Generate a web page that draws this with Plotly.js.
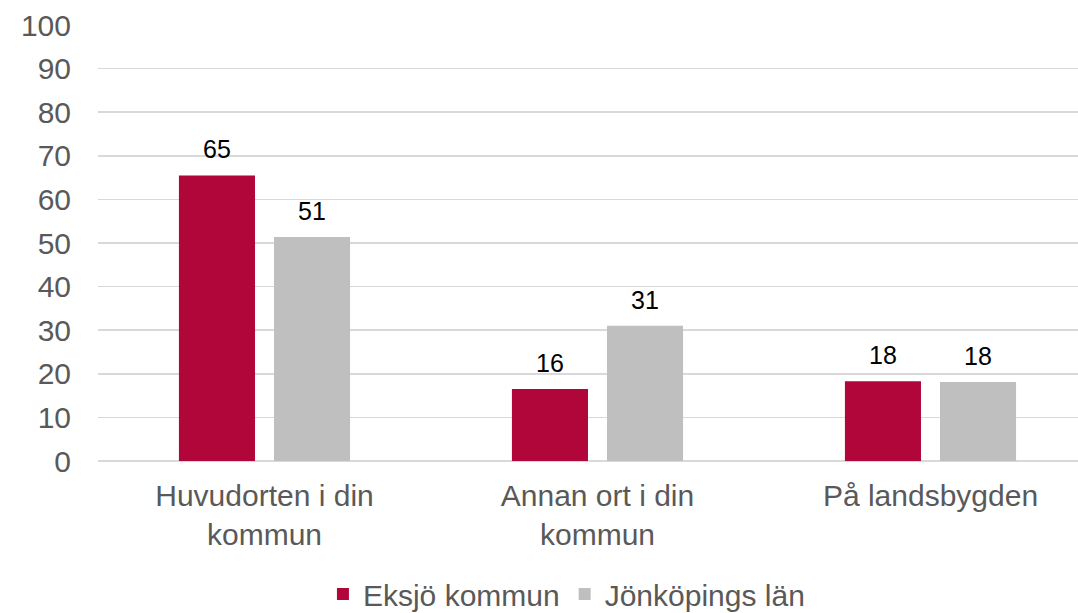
<!DOCTYPE html>
<html><head><meta charset="utf-8">
<script src="https://cdn.plot.ly/plotly-3.0.1.min.js"></script>
<style>body{margin:0;background:#fff}#c{width:1078px;height:613px}</style>
</head><body><div id="c"></div>
<script>
var categories = ["Huvudorten i din<br>kommun", "Annan ort i din<br>kommun", "På landsbygden"];
var seriesNames = ["Eksjö kommun", "Jönköpings län"];
var eksjo = [65.5, 16.5, 18.3];
var jonkoping = [51.4, 31.0, 18.1];
var eksjoLabels = ["65", "16", "18"];
var jonkopingLabels = ["51", "31", "18"];
var yTicks = [0,10,20,30,40,50,60,70,80,90,100];
var colors = ['#b0063a', '#bfbfbf'];

var FONT = 'Liberation Sans, Arial, sans-serif';
var series = [eksjo, jonkoping];
var labels = [eksjoLabels, jonkopingLabels];
var data = series.map(function(vals, i){
  return {type:'bar', name:seriesNames[i], x:categories, y:vals, marker:{color:colors[i]}, hoverinfo:'none'};
});
var annotations = [];
series.forEach(function(vals, i){
  vals.forEach(function(v, j){
    annotations.push({x:categories[j], y:v, xref:'x', yref:'y', text:labels[i][j], showarrow:false,
      yanchor:'bottom', yshift:10, xshift:(i===0?-47.5:47.5),
      font:{family:FONT, size:25, color:'#000'}});
  });
});
var layout = {
  width:1078, height:613,
  margin:{l:98, r:0, t:25, b:152, autoexpand:false},
  paper_bgcolor:'#fff', plot_bgcolor:'#fff',
  font:{family:FONT, color:'#595959', size:30},
  barmode:'group', bargap:0.429, bargroupgap:0.2,
  showlegend:true,
  legend:{orientation:'h', x:0.478, xanchor:'center', y:-0.305, yanchor:'middle',
    font:{size:30, color:'#595959'}, itemwidth:30, traceorder:'normal'},
  annotations:annotations,
  xaxis:{type:'category', range:[-0.5, 2.443], showgrid:false, zeroline:false, showline:false,
    ticks:'', tickfont:{size:30, color:'#595959'}, ticklabelstandoff:14, fixedrange:true, automargin:false},
  yaxis:{range:[0,100], tickvals:yTicks, ticktext:yTicks.map(String), showgrid:true, gridcolor:'#d9d9d9', gridwidth:1.5,
    zeroline:true, zerolinecolor:'#d9d9d9', zerolinewidth:1.5, showline:false, ticks:'',
    ticklabelstandoff:26, tickfont:{size:30, color:'#595959'}, fixedrange:true, automargin:false}
};
Plotly.newPlot('c', data, layout, {staticPlot:true, displayModeBar:false});
</script></body></html>
